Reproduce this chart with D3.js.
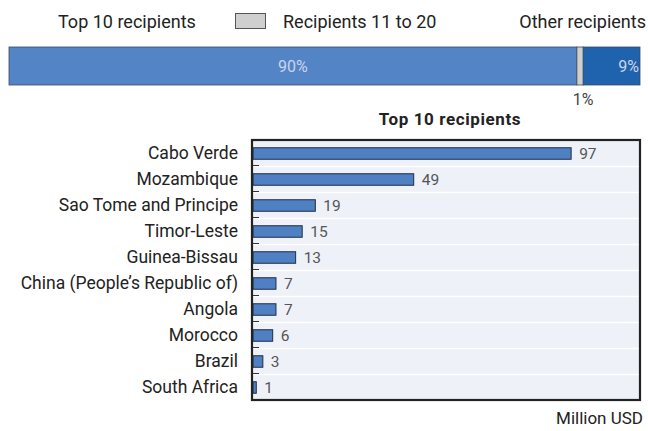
<!DOCTYPE html>
<html>
<head>
<meta charset="utf-8">
<script src="https://cdn.jsdelivr.net/npm/d3@7/dist/d3.min.js"></script>
<style>
  html, body { margin: 0; padding: 0; background: #ffffff; }
  svg { display: block; }
  text { font-family: "Liberation Sans Narrow", "Arial Narrow", Roboto, "Liberation Sans", sans-serif; }
</style>
</head>
<body>
<svg id="chart" width="648" height="431"></svg>
<script>
// Share of aid by recipient group (percent)
const shareGroups = ["Top 10 recipients", "Recipients 11 to 20", "Other recipients"];
const shareValues = [90, 1, 9];
const shareLabels = ["90%", "1%", "9%"];

// Top 10 recipients (million USD)
const countries = ["Cabo Verde", "Mozambique", "Sao Tome and Principe", "Timor-Leste", "Guinea-Bissau",
  "China (People\u2019s Republic of)", "Angola", "Morocco", "Brazil", "South Africa"];
const amounts = [97, 49, 19, 15, 13, 7, 7, 6, 3, 1];

const svg = d3.select("#chart");
const shareColors = ["#5384c6", "#cfcfcf", "#1f62ad"];

// ---- Legend ----
const legend = svg.append("g").attr("font-size", 18).attr("fill", "#222");
legend.append("text").attr("x", 58).attr("y", 28).text(shareGroups[0]);
legend.append("rect").attr("x", 235.5).attr("y", 13.5).attr("width", 30).attr("height", 15)
  .attr("fill", shareColors[1]).attr("stroke", "#555");
legend.append("text").attr("x", 283).attr("y", 28).text(shareGroups[1]);
legend.append("text").attr("x", 646).attr("y", 28).attr("text-anchor", "end").text(shareGroups[2]);

// ---- Stacked share bar ----
const xs = d3.scaleLinear().domain([0, d3.sum(shareValues)]).range([9, 640]);
let acc = 0;
const segs = shareValues.map((v, i) => { const s = { i, v, x0: acc, x1: acc + v }; acc += v; return s; });
const sy0 = 47, sh = 38;
svg.append("g").selectAll("rect").data(segs).join("rect")
  .attr("x", d => xs(d.x0)).attr("y", sy0)
  .attr("width", d => xs(d.x1) - xs(d.x0)).attr("height", sh)
  .attr("fill", d => shareColors[d.i])
  .attr("stroke", "#3a4a60").attr("stroke-width", 0.8);

svg.append("text").attr("x", (xs(segs[0].x0) + xs(segs[0].x1)) / 2).attr("y", sy0 + sh / 2 + 6)
  .attr("text-anchor", "middle").attr("font-size", 16).attr("fill", "#c9d6ea").text(shareLabels[0]);
svg.append("text").attr("x", xs(segs[2].x1) - 1).attr("y", sy0 + sh / 2 + 6)
  .attr("text-anchor", "end").attr("font-size", 16).attr("fill", "#c9d6ea").text(shareLabels[2]);
svg.append("text").attr("x", (xs(segs[1].x0) + xs(segs[1].x1)) / 2 + 3).attr("y", sy0 + sh + 20)
  .attr("text-anchor", "middle").attr("font-size", 16).attr("fill", "#444").text(shareLabels[1]);

// ---- Top 10 bar chart ----
svg.append("text").attr("x", 450).attr("y", 125).attr("text-anchor", "middle")
  .attr("font-size", 17).attr("font-weight", "bold").attr("letter-spacing", 0.6)
  .attr("fill", "#222").text("Top 10 recipients");

const plot = { left: 252, right: 640, top: 140, bottom: 400 };
const x = d3.scaleLinear().domain([0, 118]).range([plot.left + 1, plot.right]);
const y = d3.scaleBand().domain(countries).range([plot.top, plot.bottom]).paddingInner(0).paddingOuter(0);

svg.append("rect").attr("x", plot.left).attr("y", plot.top)
  .attr("width", plot.right - plot.left).attr("height", plot.bottom - plot.top)
  .attr("fill", "#eef1f8");

// row separators
svg.append("g").selectAll("line").data(countries.slice(1)).join("line")
  .attr("x1", plot.left).attr("x2", plot.right)
  .attr("y1", d => y(d) + 0.5).attr("y2", d => y(d) + 0.5)
  .attr("stroke", "#ffffff").attr("stroke-width", 1.5);

// bars
const barH = 11.5;
svg.append("g").selectAll("rect").data(countries).join("rect")
  .attr("x", x(0)).attr("y", d => y(d) + (y.bandwidth() - barH) / 2 + 0.5)
  .attr("width", (d, i) => x(amounts[i]) - x(0)).attr("height", barH)
  .attr("fill", "#4f80c3").attr("stroke", "#1e2d45").attr("stroke-width", 1);

// value labels
svg.append("g").selectAll("text").data(countries).join("text")
  .attr("x", (d, i) => x(amounts[i]) + 8).attr("y", d => y(d) + y.bandwidth() / 2 + 6)
  .attr("font-size", 15.5).attr("fill", "#555").text((d, i) => amounts[i]);

// left axis with category labels and short ticks at band boundaries
const axis = d3.axisLeft(y).tickSize(0).tickPadding(14);
const ag = svg.append("g").attr("transform", `translate(${plot.left},0)`).call(axis);
ag.select(".domain").remove();
ag.selectAll("text").attr("font-size", 17.5).attr("fill", "#222").attr("dy", "0.36em")
  .style("font-family", '"Liberation Sans Narrow", "Arial Narrow", Roboto, "Liberation Sans", sans-serif');

svg.append("g").selectAll("line").data(countries.slice(1)).join("line")
  .attr("x1", plot.left).attr("x2", plot.left + 7)
  .attr("y1", d => y(d) - 0.5).attr("y2", d => y(d) - 0.5)
  .attr("stroke", "#333").attr("stroke-width", 1);

// frame
svg.append("rect").attr("x", plot.left).attr("y", plot.top)
  .attr("width", plot.right - plot.left).attr("height", plot.bottom - plot.top)
  .attr("fill", "none").attr("stroke", "#222").attr("stroke-width", 2.2);

svg.append("text").attr("x", 643).attr("y", 424).attr("text-anchor", "end")
  .attr("font-size", 17).attr("fill", "#222").text("Million USD");
</script>
</body>
</html>
